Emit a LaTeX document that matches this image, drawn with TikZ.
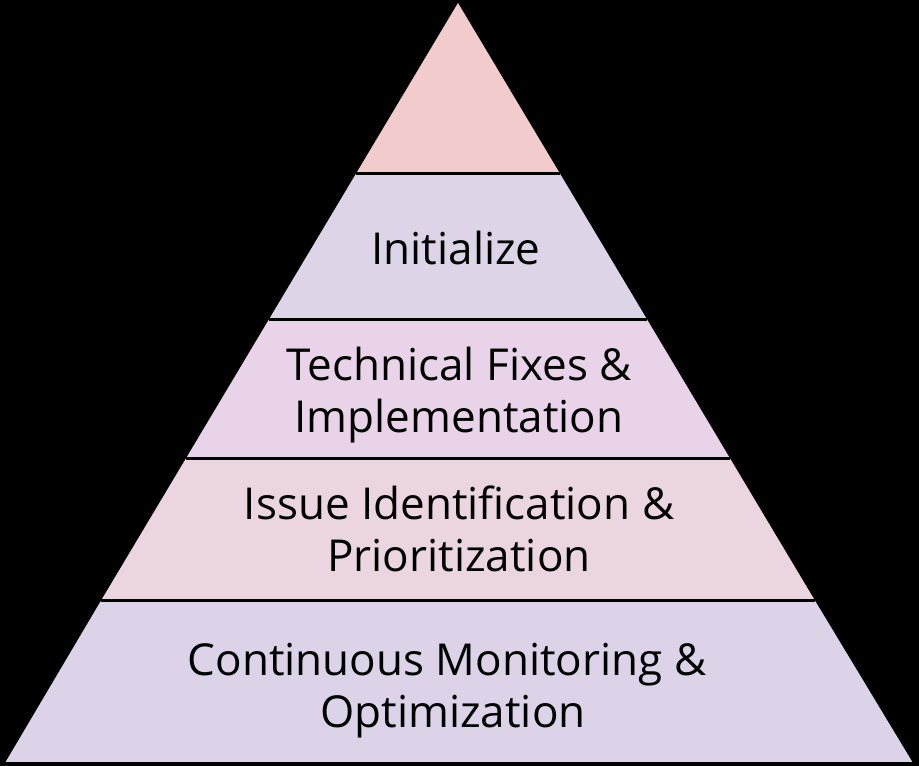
\documentclass[tikz,border=0pt]{standalone}
\usepackage{fontspec}
\setmainfont{Open Sans}
\definecolor{topc}{HTML}{F2CBCD}
\definecolor{initc}{HTML}{DDD4E8}
\definecolor{techc}{HTML}{E8D3E8}
\definecolor{issuec}{HTML}{EAD5E0}
\definecolor{contc}{HTML}{DCD3E8}
\begin{document}
\begin{tikzpicture}[x=1pt,y=-1pt,
  sep/.style={draw=black,line width=3pt},
  lbl/.style={align=center,anchor=base,font=\fontsize{44}{52}\selectfont,text=black,inner sep=0pt}]
\useasboundingbox (0,0) rectangle (919,766);
\fill[black] (0,0) rectangle (919,766);
% apex (458,3), base (5,763)-(913,763)
\coordinate (A) at (458,3);
\coordinate (L1) at (356.4,173); \coordinate (R1) at (559.6,173);
\coordinate (L2) at (269.2,319); \coordinate (R2) at (646.8,319);
\coordinate (L3) at (186.2,458); \coordinate (R3) at (729.8,458);
\coordinate (L4) at (101.4,600); \coordinate (R4) at (814.6,600);
\coordinate (BL) at (5,763); \coordinate (BR) at (913,763);
\fill[topc] (A) -- (R1) -- (L1) -- cycle;
\fill[initc] (L1) -- (R1) -- (R2) -- (L2) -- cycle;
\fill[techc] (L2) -- (R2) -- (R3) -- (L3) -- cycle;
\fill[issuec] (L3) -- (R3) -- (R4) -- (L4) -- cycle;
\fill[contc] (L4) -- (R4) -- (BR) -- (BL) -- cycle;
\draw[sep] (L1) -- (R1);
\draw[sep] (L2) -- (R2);
\draw[sep] (L3) -- (R3);
\draw[sep] (L4) -- (R4);
\draw[sep] (BL) -- (BR);
\node[lbl] (init) at (456,264) {Initialize};
\node[lbl] (tech) at (459,432) {Technical Fixes \&\\Implementation};
\node[lbl] (issue) at (459,571) {Issue Identification \&\\Prioritization};
\node[lbl] (cont) at (453,727) {Continuous Monitoring \&\hspace*{12pt}\\Optimization};
\end{tikzpicture}
\end{document}
